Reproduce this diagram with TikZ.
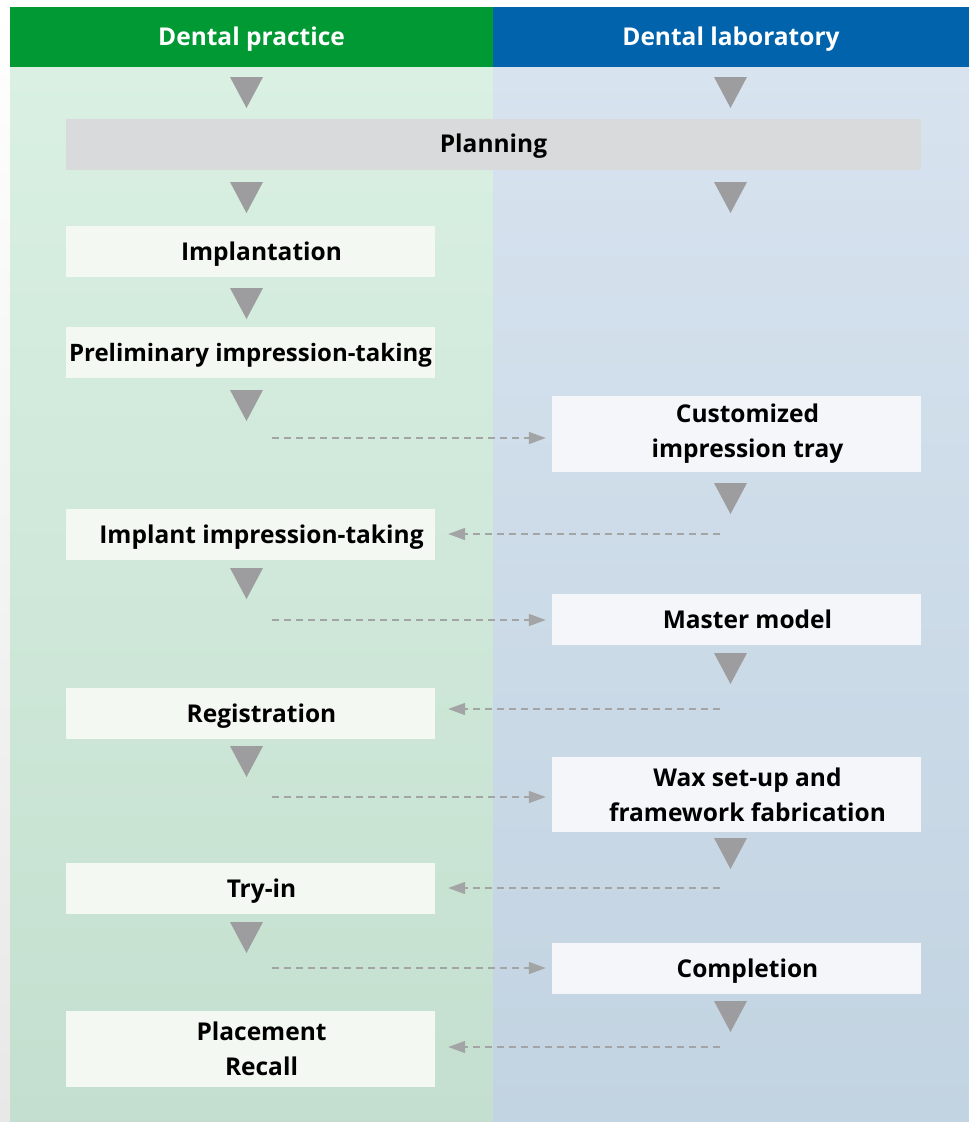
\documentclass[tikz,border=0pt]{standalone}
\usepackage{fontspec}
\setsansfont{Open Sans}
\usepackage{xcolor}
\usepackage{tikz}
\usetikzlibrary{arrows.meta, positioning, calc}
\definecolor{greenA}{HTML}{009933}
\definecolor{greenB}{HTML}{D9F0E2}
\definecolor{greenC}{HTML}{C4DFCF}
\definecolor{greenD}{HTML}{F4F8F2}
\definecolor{blueA}{HTML}{0063AB}
\definecolor{blueB}{HTML}{D7E3EF}
\definecolor{blueC}{HTML}{C2D3E1}
\definecolor{blueD}{HTML}{F4F6FA}
\definecolor{grayA}{HTML}{9D9D9F}
\definecolor{grayB}{HTML}{D9DADC}
\definecolor{grayC}{HTML}{A3A4A6}
\tikzset{
  head/.style={
    fill=#1, text=white, minimum height=60pt, inner sep=0pt,
    text height=17.5pt, text depth=0pt,
    font=\sffamily\bfseries\fontsize{24.5}{28}\selectfont
  },
  box/.style={
    fill=#1, minimum width=369pt, minimum height=51pt, inner sep=0pt,
    align=center, font=\sffamily\bfseries\fontsize{24.5}{35}\selectfont
  },
  oneline/.style={text height=17.5pt, text depth=0pt},
  pad/.style={oneline, execute at begin node={\hspace*{22pt}}},
  tri/.style={fill=grayA},
  xfer/.style={
    -{Triangle[length=17pt, width=12pt]}, line width=1.6pt, color=grayC,
    dash pattern=on 7pt off 5pt
  }
}

\begin{document}
\begin{tikzpicture}[x=1pt, y=-1pt]
  \useasboundingbox (0,0) rectangle (969,1122);
  \shade[top color=white, bottom color=black!9] (0,0) rectangle (10,1122);
  \shade[top color=greenB, bottom color=greenC] (10,67) rectangle (493,1122);
  \shade[top color=blueB, bottom color=blueC] (493,67) rectangle (969,1122);

  % column heads
  \node[head=greenA, minimum width=483pt] (practice) at (251.5,37) {Dental practice};
  \node[head=blueA, minimum width=476pt] (lab) at (731,37) {Dental laboratory};

  \node[box=grayB, oneline, minimum width=855pt] (planning) at (493.5,144) {Planning};

  % practice side
  \node[box=greenD, pad] (implant) at (250.5,251.5) {Implantation};
  \node[box=greenD, oneline, font=\sffamily\bfseries\fontsize{24}{35}\selectfont]
    (prelim) at (250.5,352.5) {Preliminary impression-taking};
  \node[box=greenD, pad] (implimp) at (250.5,534.5) {Implant impression-taking};
  \node[box=greenD, pad] (regist) at (250.5,713.5) {Registration};
  \node[box=greenD, pad] (tryin) at (250.5,888.5) {Try-in};
  \node[box=greenD, minimum height=76pt] (place) at (250.5,1049)
    {\hspace*{22pt}Placement\\\hspace*{22pt}Recall};

  % laboratory side
  \node[box=blueD, minimum height=76pt] (tray) at (736.5,434)
    {\hspace*{22pt}Customized\\\hspace*{22pt}impression tray};
  \node[box=blueD, pad] (master) at (736.5,619.5) {Master model};
  \node[box=blueD, minimum height=75pt] (wax) at (736.5,794.5)
    {\hspace*{22pt}Wax set-up and\\\hspace*{22pt}framework fabrication};
  \node[box=blueD, pad] (compl) at (736.5,968.5) {Completion};

  % step triangles
  \foreach \x/\y in {246.5/77, 246.5/182, 246.5/288, 246.5/390, 246.5/568, 246.5/746, 246.5/922,
                     730.5/77, 730.5/182, 730.5/483, 730.5/653, 730.5/838, 730.5/1001}
    \fill[tri] (\x-16.5,\y) -- (\x+16.5,\y) -- (\x,\y+31) -- cycle;

  % hand-overs
  \coordinate (toTray) at (272,438);
  \coordinate (toMaster) at (272,620);
  \coordinate (toWax) at (272,797);
  \coordinate (toCompl) at (272,968);
  \coordinate (fromTray) at (720,534);
  \coordinate (fromMaster) at (720,709);
  \coordinate (fromWax) at (720,888);
  \coordinate (fromCompl) at (720,1047);

  \draw[xfer, shorten >=6pt] (toTray) -- (toTray -| tray.west);
  \draw[xfer, shorten >=6pt] (toMaster) -- (toMaster -| master.west);
  \draw[xfer, shorten >=6pt] (toWax) -- (toWax -| wax.west);
  \draw[xfer, shorten >=6pt] (toCompl) -- (toCompl -| compl.west);
  \draw[xfer, shorten >=13pt] (fromTray) -- (fromTray -| implimp.east);
  \draw[xfer, shorten >=13pt] (fromMaster) -- (fromMaster -| regist.east);
  \draw[xfer, shorten >=13pt] (fromWax) -- (fromWax -| tryin.east);
  \draw[xfer, shorten >=13pt] (fromCompl) -- (fromCompl -| place.east);
\end{tikzpicture}
\end{document}
